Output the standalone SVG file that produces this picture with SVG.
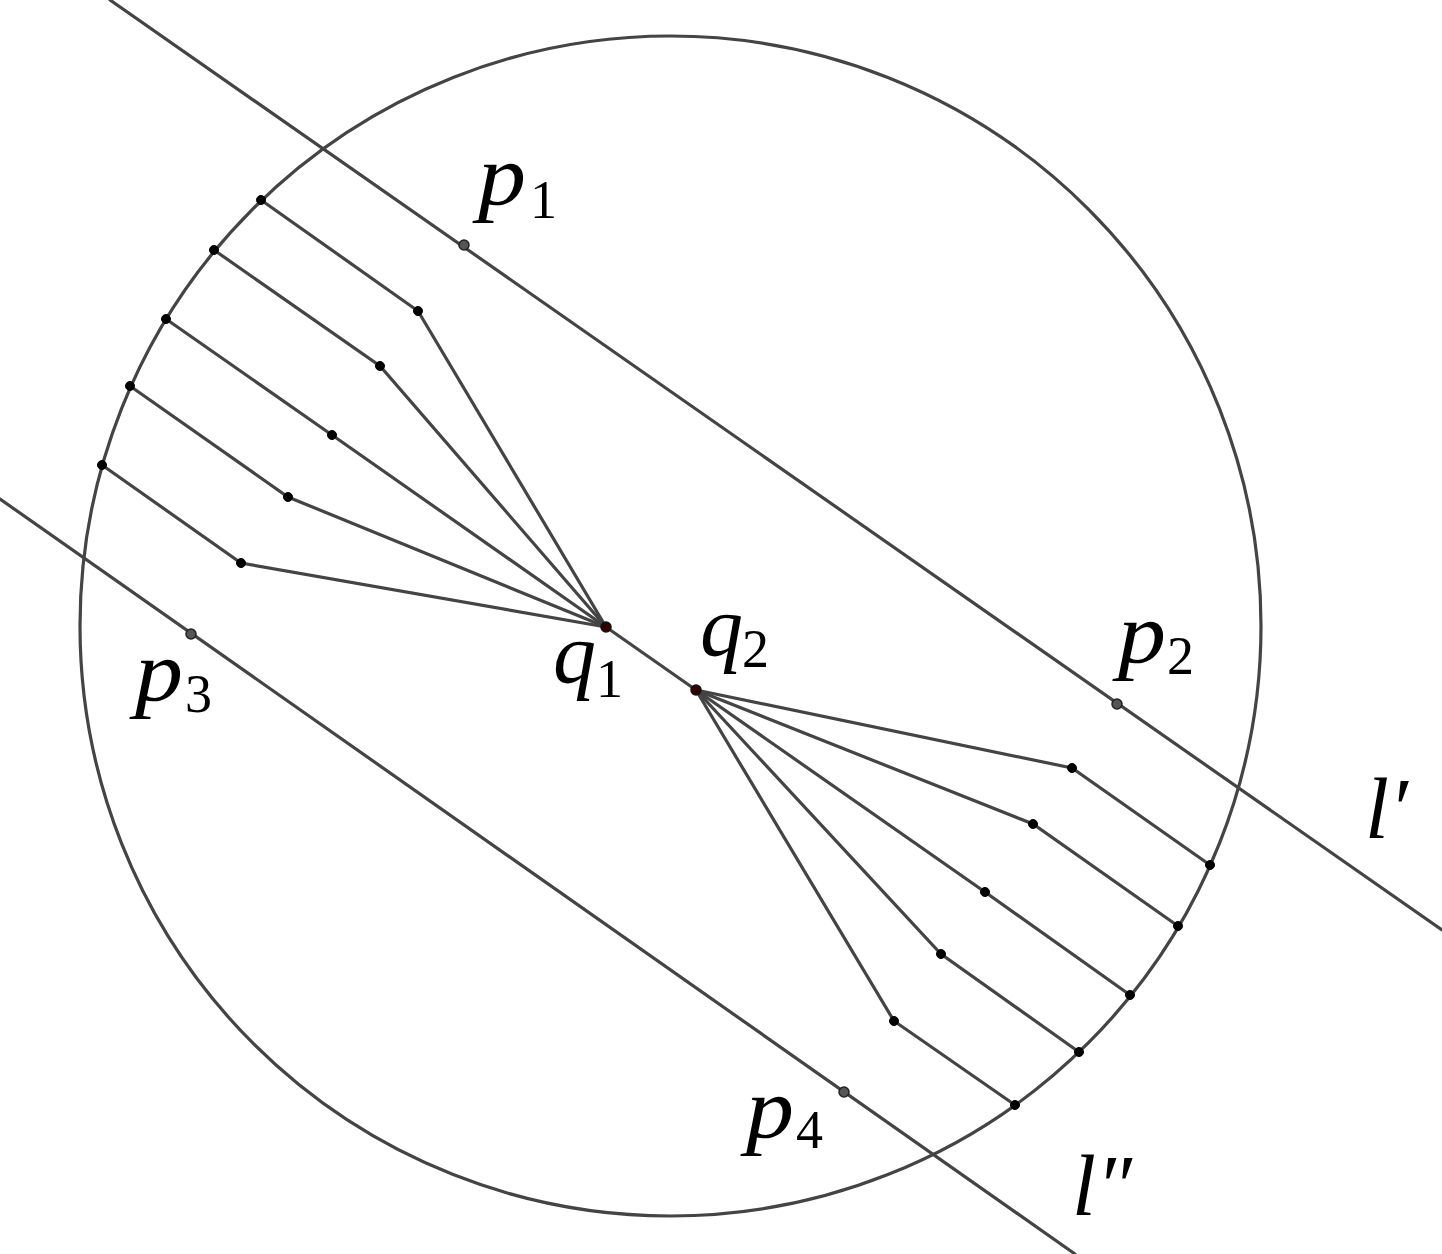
<svg xmlns="http://www.w3.org/2000/svg" width="1442" height="1254" viewBox="0 0 1442 1254">
<style>
.ln{stroke:#444;stroke-width:3.2;fill:none;stroke-linecap:round}
.pt{fill:#000;stroke:#000;stroke-width:1}
.gp{fill:#555;stroke:#222;stroke-width:1.5}
.qp{fill:#300;stroke:#111;stroke-width:1.5}
.m{font-family:"Liberation Serif",serif;font-style:italic;font-size:86px;fill:#000}
.s{font-family:"Liberation Serif",serif;font-size:54px;fill:#000}
</style>
<rect width="1442" height="1254" fill="#fff"/>
<g id="connectors">
<ellipse class="ln" cx="670.5" cy="626" rx="590.5" ry="590"/>
<line class="ln" x1="110" y1="0" x2="1442" y2="930"/>
<line class="ln" x1="0" y1="499" x2="1075" y2="1254"/>
<line class="ln" x1="606" y1="627" x2="696" y2="690"/>
<polyline class="ln" points="261,200 418,311 606,627"/>
<polyline class="ln" points="214,250 380,366 606,627"/>
<polyline class="ln" points="166,319 332,435 606,627"/>
<polyline class="ln" points="130,386 288,497 606,627"/>
<polyline class="ln" points="102,465 241,563 606,627"/>
<polyline class="ln" points="1210,865 1072,768 696,690"/>
<polyline class="ln" points="1178,926 1033,824 696,690"/>
<polyline class="ln" points="1130,995 985,892 696,690"/>
<polyline class="ln" points="1079,1052 941,954 696,690"/>
<polyline class="ln" points="1015,1105 894,1021 696,690"/>
</g>
<g id="points">
<circle class="pt" cx="261" cy="200" r="4.5"/><circle class="pt" cx="418" cy="311" r="4.5"/>
<circle class="pt" cx="214" cy="250" r="4.5"/><circle class="pt" cx="380" cy="366" r="4.5"/>
<circle class="pt" cx="166" cy="319" r="4.5"/><circle class="pt" cx="332" cy="435" r="4.5"/>
<circle class="pt" cx="130" cy="386" r="4.5"/><circle class="pt" cx="288" cy="497" r="4.5"/>
<circle class="pt" cx="102" cy="465" r="4.5"/><circle class="pt" cx="241" cy="563" r="4.5"/>
<circle class="pt" cx="1210" cy="865" r="4.5"/><circle class="pt" cx="1072" cy="768" r="4.5"/>
<circle class="pt" cx="1178" cy="926" r="4.5"/><circle class="pt" cx="1033" cy="824" r="4.5"/>
<circle class="pt" cx="1130" cy="995" r="4.5"/><circle class="pt" cx="985" cy="892" r="4.5"/>
<circle class="pt" cx="1079" cy="1052" r="4.5"/><circle class="pt" cx="941" cy="954" r="4.5"/>
<circle class="pt" cx="1015" cy="1105" r="4.5"/><circle class="pt" cx="894" cy="1021" r="4.5"/>
</g>
<g id="p1"><circle class="gp" cx="464" cy="245" r="5"/><text class="m" x="478" y="204" textLength="48" lengthAdjust="spacingAndGlyphs">p</text><text class="s" x="530" y="218">1</text></g>
<g id="p2"><circle class="gp" cx="1117" cy="704" r="5"/><text class="m" x="1118" y="662" textLength="48" lengthAdjust="spacingAndGlyphs">p</text><text class="s" x="1167" y="674">2</text></g>
<g id="p3"><circle class="gp" cx="191" cy="634" r="5"/><text class="m" x="135" y="700" textLength="48" lengthAdjust="spacingAndGlyphs">p</text><text class="s" x="185" y="712">3</text></g>
<g id="p4"><circle class="gp" cx="844" cy="1092" r="5"/><text class="m" x="746" y="1137" textLength="48" lengthAdjust="spacingAndGlyphs">p</text><text class="s" x="796" y="1148">4</text></g>
<g id="q1"><circle class="qp" cx="606" cy="627" r="5"/><text class="m" x="553" y="682">q</text><text class="s" x="596" y="697">1</text></g>
<g id="q2"><circle class="qp" cx="696" cy="690" r="5"/><text class="m" x="700" y="655">q</text><text class="s" x="742" y="667">2</text></g>
<g id="lp"><text class="m" x="1365" y="838">l′</text></g>
<g id="lpp"><text class="m" x="1072" y="1215">l″</text></g>
</svg>
